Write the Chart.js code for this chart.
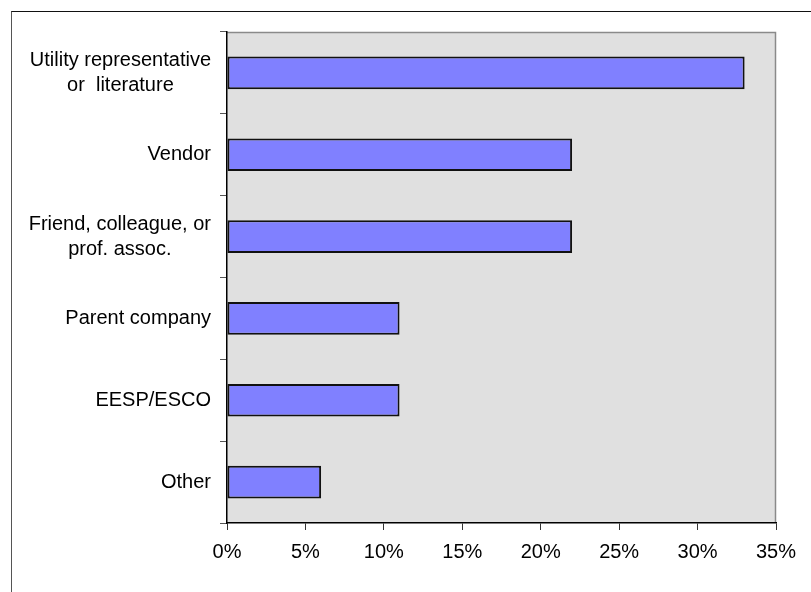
<!DOCTYPE html>
<html>
<head>
<meta charset="utf-8">
<title>Information sources</title>
<script src="https://cdn.jsdelivr.net/npm/chart.js@4/dist/chart.umd.min.js"></script>
<style>
  body { margin: 0; background: #fff; }
  #wrap { position: relative; width: 811px; height: 592px; overflow: hidden; }
  #frame {
    position: absolute; left: 11px; top: 11px; width: 820px; height: 600px;
    border-top: 1px solid #111; border-left: 1px solid #555;
    pointer-events: none;
  }
  canvas { position: absolute; left: 0; top: 0; }
</style>
</head>
<body>
<div id="wrap">
  <canvas id="chart" width="811" height="592"></canvas>
  <div id="frame"></div>
</div>
<script>
// Source categories (each entry is one or two label lines)
const categories = [
  ['Utility representative', 'or  literature'],
  ['Vendor'],
  ['Friend, colleague, or', 'prof. assoc.'],
  ['Parent company'],
  ['EESP/ESCO'],
  ['Other']
];
// Share of respondents, percent
const shares = [33, 22, 22, 11, 11, 6];
const xTicks = [0, 5, 10, 15, 20, 25, 30, 35];

const FONT = '"Liberation Sans", Arial, sans-serif';

// Grey plot background with a thin outline on the open sides
const plotBackground = {
  id: 'plotBackground',
  beforeDraw(chart) {
    const { ctx, chartArea: a } = chart;
    ctx.save();
    ctx.fillStyle = '#e0e0e0';
    ctx.fillRect(a.left, a.top, a.right - a.left, a.bottom - a.top);
    ctx.strokeStyle = '#8a8a8a';
    ctx.lineWidth = 1.5;
    ctx.beginPath();
    ctx.moveTo(a.left, a.top + 0.5);
    ctx.lineTo(a.right - 0.5, a.top + 0.5);
    ctx.lineTo(a.right - 0.5, a.bottom);
    ctx.stroke();
    ctx.restore();
  }
};

// Category labels: block right-aligned to the axis, lines centred within the block
const categoryLabels = {
  id: 'categoryLabels',
  afterDraw(chart) {
    const { ctx } = chart;
    const yScale = chart.scales.y;
    const right = yScale.right - 16;
    const lineHeight = 25;
    ctx.save();
    ctx.font = '20px ' + FONT;
    ctx.fillStyle = '#000';
    ctx.textAlign = 'center';
    ctx.textBaseline = 'middle';
    categories.forEach((lines, i) => {
      const cy = yScale.getPixelForValue(i);
      const w = Math.max(...lines.map(l => ctx.measureText(l).width));
      const cx = right - w / 2;
      const y0 = cy - (lines.length - 1) * lineHeight / 2;
      lines.forEach((l, j) => ctx.fillText(l, cx, y0 + j * lineHeight));
    });
    ctx.restore();
  }
};

new Chart(document.getElementById('chart'), {
  type: 'bar',
  data: {
    labels: categories.map(c => c.join(' ')),
    datasets: [{
      data: shares,
      backgroundColor: '#8080ff',
      borderColor: '#111',
      borderWidth: 2,
      borderSkipped: false,
      barPercentage: 0.4,
      categoryPercentage: 1
    }]
  },
  options: {
    indexAxis: 'y',
    responsive: false,
    animation: false,
    events: [],
    layout: { padding: { left: 0, top: 32, right: 35, bottom: 29 } },
    plugins: { legend: { display: false }, tooltip: { enabled: false } },
    scales: {
      x: {
        min: 0,
        max: 35,
        afterBuildTicks: s => { s.ticks = xTicks.map(v => ({ value: v })); },
        afterFit: s => { s.height = 40; },
        border: { display: true, color: '#000', width: 1.5 },
        grid: { drawOnChartArea: false, tickLength: 7, color: '#333', lineWidth: 1 },
        ticks: {
          padding: 10,
          color: '#000',
          maxRotation: 0,
          font: { family: FONT, size: 20 },
          callback: v => v + '%'
        }
      },
      y: {
        afterFit: s => { s.width = 227; },
        border: { display: true, color: '#000', width: 1.5 },
        grid: { drawOnChartArea: false, offset: true, tickLength: 7, color: '#555', lineWidth: 1 },
        ticks: { display: false }
      }
    }
  },
  plugins: [plotBackground, categoryLabels]
});
</script>
</body>
</html>
